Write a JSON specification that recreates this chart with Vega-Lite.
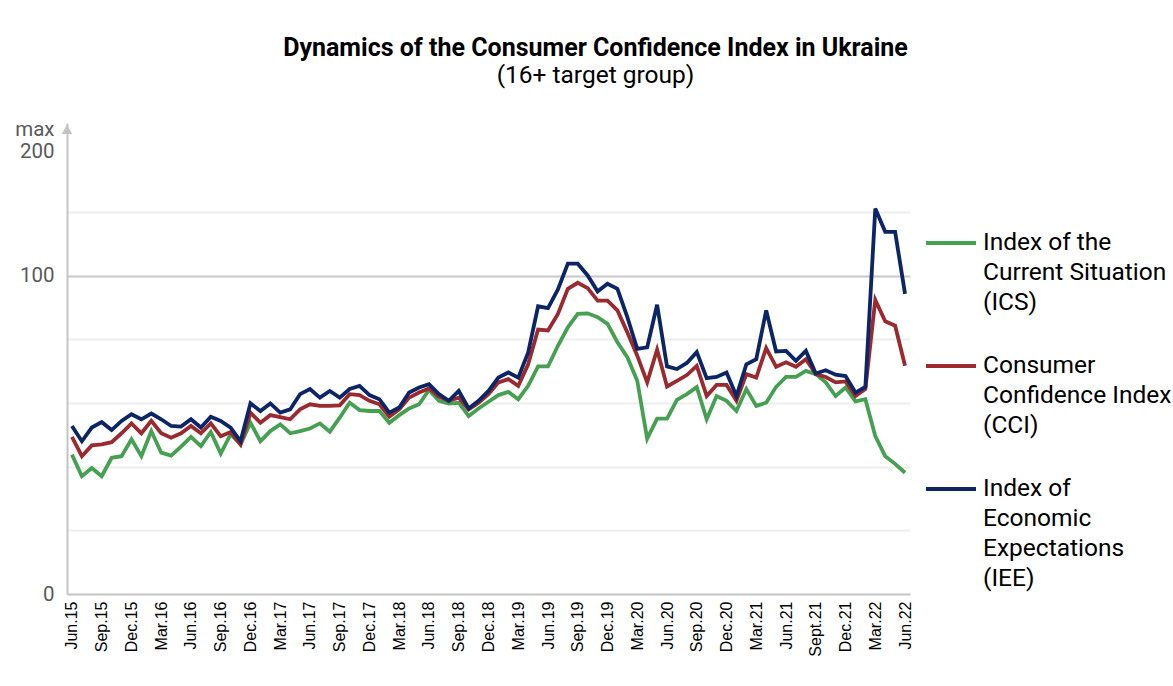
{
  "$schema": "https://vega.github.io/schema/vega-lite/v6.json",
  "width": 843,
  "height": 471,
  "autosize": "none",
  "padding": {"left": 67, "top": 123, "right": 263, "bottom": 92},
  "background": "white",
  "title": {
    "text": "Dynamics of the Consumer Confidence Index in Ukraine",
    "subtitle": "(16+ target group)",
    "font": "Roboto",
    "fontSize": 25,
    "fontWeight": "bold",
    "color": "black",
    "subtitleFont": "Roboto",
    "subtitleFontSize": 24.5,
    "subtitleColor": "black",
    "subtitlePadding": 3,
    "anchor": "middle",
    "frame": "group",
    "dx": 107,
    "offset": 32
  },
  "config": {"view": {"stroke": null}},
  "layer": [
    {
      "data": {
        "values": [
          {"m": "Jun.15", "ICS": 43.8, "CCI": 49.4, "IEE": 52.8},
          {"m": "Jul.15", "ICS": 37.0, "CCI": 43.3, "IEE": 48.0},
          {"m": "Aug.15", "ICS": 39.6, "CCI": 46.7, "IEE": 52.3},
          {"m": "Sep.15", "ICS": 37.0, "CCI": 47.0, "IEE": 54.0},
          {"m": "Oct.15", "ICS": 42.8, "CCI": 47.7, "IEE": 51.5},
          {"m": "Nov.15", "ICS": 43.3, "CCI": 50.5, "IEE": 54.4},
          {"m": "Dec.15", "ICS": 48.6, "CCI": 53.6, "IEE": 56.5},
          {"m": "Jan.16", "ICS": 43.3, "CCI": 50.5, "IEE": 54.9},
          {"m": "Feb.16", "ICS": 51.2, "CCI": 54.4, "IEE": 56.7},
          {"m": "Mar.16", "ICS": 44.4, "CCI": 50.5, "IEE": 54.9},
          {"m": "Apr.16", "ICS": 43.5, "CCI": 49.1, "IEE": 52.8},
          {"m": "May.16", "ICS": 46.3, "CCI": 50.5, "IEE": 52.6},
          {"m": "Jun.16", "ICS": 49.4, "CCI": 52.8, "IEE": 54.9},
          {"m": "Jul.16", "ICS": 46.5, "CCI": 50.5, "IEE": 52.3},
          {"m": "Aug.16", "ICS": 50.9, "CCI": 53.6, "IEE": 55.7},
          {"m": "Sep.16", "ICS": 44.1, "CCI": 49.6, "IEE": 54.4},
          {"m": "Oct.16", "ICS": 50.2, "CCI": 50.9, "IEE": 52.3},
          {"m": "Nov.16", "ICS": 47.0, "CCI": 47.0, "IEE": 48.0},
          {"m": "Dec.16", "ICS": 53.8, "CCI": 57.0, "IEE": 59.9},
          {"m": "Jan.17", "ICS": 48.0, "CCI": 53.8, "IEE": 57.5},
          {"m": "Feb.17", "ICS": 51.2, "CCI": 56.2, "IEE": 59.9},
          {"m": "Mar.17", "ICS": 53.3, "CCI": 55.6, "IEE": 57.0},
          {"m": "Apr.17", "ICS": 50.5, "CCI": 54.9, "IEE": 58.0},
          {"m": "May.17", "ICS": 51.2, "CCI": 58.0, "IEE": 62.8},
          {"m": "Jun.17", "ICS": 52.0, "CCI": 59.6, "IEE": 64.4},
          {"m": "Jul.17", "ICS": 53.6, "CCI": 59.1, "IEE": 61.7},
          {"m": "Aug.17", "ICS": 51.0, "CCI": 59.1, "IEE": 63.8},
          {"m": "Sep.17", "ICS": 55.4, "CCI": 59.3, "IEE": 61.7},
          {"m": "Oct.17", "ICS": 60.1, "CCI": 62.8, "IEE": 64.4},
          {"m": "Nov.17", "ICS": 57.8, "CCI": 62.5, "IEE": 65.4},
          {"m": "Dec.17", "ICS": 57.5, "CCI": 60.7, "IEE": 62.5},
          {"m": "Jan.18", "ICS": 57.5, "CCI": 59.6, "IEE": 61.2},
          {"m": "Feb.18", "ICS": 53.8, "CCI": 55.7, "IEE": 57.0},
          {"m": "Mar.18", "ICS": 56.2, "CCI": 58.0, "IEE": 58.6},
          {"m": "Apr.18", "ICS": 58.3, "CCI": 61.7, "IEE": 63.3},
          {"m": "May.18", "ICS": 59.6, "CCI": 63.3, "IEE": 64.9},
          {"m": "Jun.18", "ICS": 64.1, "CCI": 64.6, "IEE": 65.9},
          {"m": "Jul.18", "ICS": 60.7, "CCI": 62.0, "IEE": 62.8},
          {"m": "Aug.18", "ICS": 59.8, "CCI": 60.7, "IEE": 60.7},
          {"m": "Sep.18", "ICS": 60.1, "CCI": 61.7, "IEE": 63.8},
          {"m": "Oct.18", "ICS": 55.9, "CCI": 58.0, "IEE": 58.3},
          {"m": "Nov.18", "ICS": 58.3, "CCI": 60.1, "IEE": 60.7},
          {"m": "Dec.18", "ICS": 60.4, "CCI": 62.8, "IEE": 63.8},
          {"m": "Jan.19", "ICS": 62.5, "CCI": 66.5, "IEE": 68.0},
          {"m": "Feb.19", "ICS": 63.5, "CCI": 67.5, "IEE": 69.6},
          {"m": "Mar.19", "ICS": 61.2, "CCI": 65.4, "IEE": 68.0},
          {"m": "Apr.19", "ICS": 65.4, "CCI": 72.2, "IEE": 75.9},
          {"m": "May.19", "ICS": 71.5, "CCI": 83.1, "IEE": 90.4},
          {"m": "Jun.19", "ICS": 71.5, "CCI": 82.8, "IEE": 89.8},
          {"m": "Jul.19", "ICS": 78.0, "CCI": 88.0, "IEE": 95.7},
          {"m": "Aug.19", "ICS": 83.8, "CCI": 95.9, "IEE": 103.8},
          {"m": "Sep.19", "ICS": 88.0, "CCI": 97.8, "IEE": 103.8},
          {"m": "Oct.19", "ICS": 88.2, "CCI": 96.1, "IEE": 100.1},
          {"m": "Nov.19", "ICS": 87.0, "CCI": 92.2, "IEE": 95.1},
          {"m": "Dec.19", "ICS": 84.9, "CCI": 92.2, "IEE": 97.5},
          {"m": "Jan.20", "ICS": 79.1, "CCI": 89.1, "IEE": 95.9},
          {"m": "Feb.20", "ICS": 74.4, "CCI": 82.2, "IEE": 87.0},
          {"m": "Mar.20", "ICS": 67.0, "CCI": 74.9, "IEE": 77.0},
          {"m": "Apr.20", "ICS": 48.8, "CCI": 66.5, "IEE": 77.5},
          {"m": "May.20", "ICS": 55.1, "CCI": 76.8, "IEE": 90.9},
          {"m": "Jun.20", "ICS": 55.1, "CCI": 65.2, "IEE": 71.5},
          {"m": "Jul.20", "ICS": 61.0, "CCI": 67.0, "IEE": 70.7},
          {"m": "Aug.20", "ICS": 62.8, "CCI": 68.8, "IEE": 72.6},
          {"m": "Sep.20", "ICS": 65.0, "CCI": 71.7, "IEE": 76.0},
          {"m": "Oct.20", "ICS": 54.9, "CCI": 62.2, "IEE": 67.8},
          {"m": "Nov.20", "ICS": 62.2, "CCI": 65.7, "IEE": 68.2},
          {"m": "Dec.20", "ICS": 60.7, "CCI": 65.7, "IEE": 69.6},
          {"m": "Jan.21", "ICS": 57.5, "CCI": 60.7, "IEE": 62.2},
          {"m": "Feb.21", "ICS": 64.4, "CCI": 69.1, "IEE": 72.2},
          {"m": "Mar.21", "ICS": 59.1, "CCI": 68.0, "IEE": 73.8},
          {"m": "Apr.21", "ICS": 60.1, "CCI": 77.3, "IEE": 89.1},
          {"m": "May.21", "ICS": 65.1, "CCI": 71.4, "IEE": 76.2},
          {"m": "Jun.21", "ICS": 68.2, "CCI": 72.8, "IEE": 76.4},
          {"m": "Jul.21", "ICS": 68.2, "CCI": 71.4, "IEE": 73.3},
          {"m": "Aug.21", "ICS": 70.1, "CCI": 73.8, "IEE": 76.4},
          {"m": "Sept.21", "ICS": 69.1, "CCI": 69.1, "IEE": 69.3},
          {"m": "Oct.21", "ICS": 66.5, "CCI": 68.2, "IEE": 70.3},
          {"m": "Nov.21", "ICS": 62.2, "CCI": 66.5, "IEE": 68.9},
          {"m": "Dec.21", "ICS": 64.9, "CCI": 66.8, "IEE": 68.5},
          {"m": "Jan.22", "ICS": 60.5, "CCI": 62.2, "IEE": 63.3},
          {"m": "Feb.22", "ICS": 61.2, "CCI": 64.4, "IEE": 65.1},
          {"m": "Mar.22", "ICS": 49.6, "CCI": 92.4, "IEE": 121.1},
          {"m": "Apr.22", "ICS": 43.3, "CCI": 85.7, "IEE": 113.8},
          {"m": "May.22", "ICS": 40.9, "CCI": 84.3, "IEE": 113.8},
          {"m": "Jun.22", "ICS": 38.1, "CCI": 71.7, "IEE": 94.3}
        ]
      },
      "transform": [{"fold": ["ICS", "CCI", "IEE"], "as": ["series", "value"]}],
      "mark": {"type": "line", "strokeWidth": 3.8, "strokeJoin": "miter"},
      "encoding": {
        "x": {
          "field": "m",
          "type": "ordinal",
          "sort": null,
          "scale": {"type": "point", "padding": 0.5},
          "axis": {
            "title": null,
            "labelAngle": -90,
            "labelFont": "Liberation Sans",
            "labelFontSize": 16,
            "labelColor": "black",
            "labelPadding": 7,
            "ticks": false,
            "domainColor": "#c4c4c4",
            "domainWidth": 2,
            "grid": false,
            "labelExpr": "test(/^(Mar|Jun|Sep|Dec)/, datum.label) ? datum.label : ''"
          }
        },
        "y": {
          "field": "value",
          "type": "quantitative",
          "scale": {"domain": [0, 148], "nice": false},
          "axis": {
            "title": null,
            "values": [0, 20, 40, 60, 80, 100, 120, 146],
            "labelExpr": "datum.value == 0 ? '0' : datum.value == 100 ? '100' : datum.value == 146 ? ['max', '200'] : ''",
            "labelFont": "Roboto",
            "labelFontSize": 20.5,
            "labelColor": "#595959",
            "labelPadding": 13,
            "labelLineHeight": 22,
            "ticks": false,
            "domainColor": "#c4c4c4",
            "domainWidth": 2,
            "grid": true,
            "gridWidth": 2,
            "gridColor": {"condition": {"test": "datum.value === 100", "value": "#c8c8c8"}, "value": "#eeeeee"},
            "gridOpacity": {"condition": {"test": "datum.value === 146 || datum.value === 0", "value": 0}, "value": 1}
          }
        },
        "color": {
          "field": "series",
          "type": "nominal",
          "scale": {"domain": ["ICS", "CCI", "IEE"], "range": ["#46a052", "#9b2a2e", "#0b2566"]},
          "legend": {
            "title": null,
            "orient": "none",
            "legendX": 857,
            "legendY": 93,
            "symbolType": "stroke",
            "symbolSize": 2500,
            "symbolStrokeWidth": 4,
            "labelFont": "Roboto",
            "labelFontSize": 24.5,
            "labelColor": "black",
            "labelLimit": 400,
            "labelOffset": 5,
            "rowPadding": 24,
            "labelExpr": "datum.value == 'ICS' ? ['Index of the', 'Current Situation', '(ICS)'] : datum.value == 'CCI' ? ['Consumer', 'Confidence Index', '(CCI)'] : ['Index of', 'Economic', 'Expectations', '(IEE)']",
            "encode": {"labels": {"update": {"lineHeight": {"value": 30}}}}
          }
        }
      }
    },
    {
      "data": {"values": [{}]},
      "mark": {"type": "point", "shape": "triangle-up", "filled": true, "color": "#c4c4c4", "size": 110, "opacity": 1},
      "encoding": {
        "x": {"datum": 0, "type": "quantitative", "scale": {"domain": [0, 1]}, "axis": null},
        "y": {"datum": 146, "type": "quantitative"}
      }
    }
  ],
  "resolve": {"scale": {"x": "independent"}}
}
